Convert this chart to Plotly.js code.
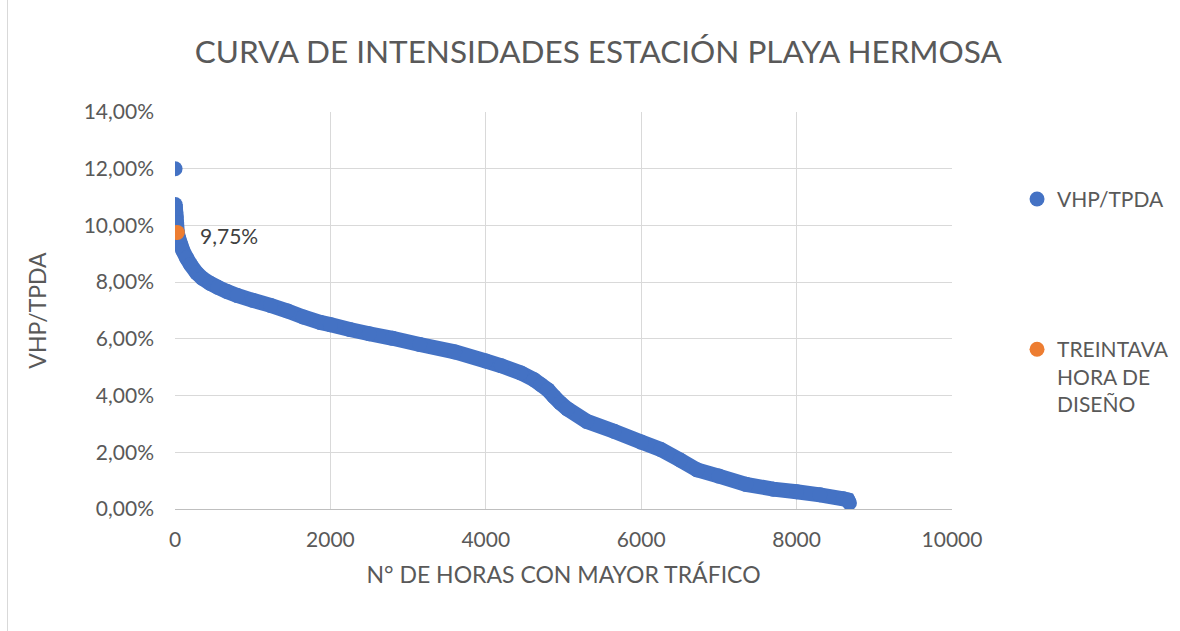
<!DOCTYPE html>
<html>
<head>
<meta charset="utf-8">
<script src="https://cdn.plot.ly/plotly-3.0.1.min.js"></script>
<style>
  html, body { margin: 0; padding: 0; background: #ffffff; }
  #chart { width: 1180px; height: 631px; }
  #frame { position: absolute; left: 7px; top: 0; width: 0; height: 631px; border-left: 1px solid #d9d9d9; }
</style>
</head>
<body>
<div id="chart"></div>
<div id="frame"></div>
<script>
// Peak hour (isolated first point)
const peakHours = [1];
const peakValues = [0.1200];

// Duration curve VHP/TPDA (hours ranked by traffic)
const curveHours = [2, 5, 10, 15, 20, 30, 40, 50, 75, 100, 150, 200, 280, 350, 450, 550, 670, 800, 1000, 1230, 1450, 1650, 1870, 2000, 2250, 2500, 2800, 3150, 3600, 4000, 4200, 4450, 4620, 4710, 4800, 4880, 4960, 5050, 5300, 5650, 6000, 6250, 6500, 6720, 7000, 7350, 7700, 8000, 8300, 8600, 8660, 8680];
const curveValues = [0.1074, 0.1062, 0.1045, 0.1030, 0.1010, 0.0975, 0.0962, 0.0952, 0.0932, 0.0912, 0.0885, 0.0862, 0.0832, 0.0814, 0.0796, 0.0782, 0.0767, 0.0753, 0.0736, 0.0718, 0.0698, 0.0677, 0.0658, 0.0650, 0.0633, 0.0618, 0.0602, 0.0580, 0.0554, 0.0522, 0.0505, 0.0480, 0.0456, 0.0438, 0.0420, 0.0396, 0.0374, 0.0353, 0.0309, 0.0274, 0.0236, 0.0210, 0.0173, 0.0138, 0.0116, 0.0087, 0.0070, 0.0061, 0.0050, 0.0036, 0.0032, 0.0021];

// Design hour (30th hour)
const designHours = [30];
const designValues = [0.0975];
const designLabel = '9,75%';

const xTicks = [0, 2000, 4000, 6000, 8000, 10000];
const yTicks = [0, 0.02, 0.04, 0.06, 0.08, 0.10, 0.12, 0.14];

const BLUE = '#4472C4';
const ORANGE = '#ED7D31';
const TXT = '#595959';
const FONT = 'Lato, "Open Sans", sans-serif';

const allHours = peakHours.concat(curveHours);
const allValues = peakValues.concat(curveValues);

const traces = [
  {
    x: curveHours, y: curveValues, type: 'scatter', mode: 'lines',
    line: {color: BLUE, width: 15, simplify: false},
    showlegend: false, hoverinfo: 'skip'
  },
  {
    x: allHours, y: allValues, type: 'scatter', mode: 'markers',
    name: 'VHP/TPDA',
    marker: {color: BLUE, size: 15},
    legend: 'legend'
  },
  {
    x: designHours, y: designValues, type: 'scatter', mode: 'markers',
    name: 'TREINTAVA<br>HORA DE<br>DISEÑO',
    marker: {color: ORANGE, size: 15},
    legend: 'legend2'
  }
];

const layout = {
  width: 1180, height: 631,
  paper_bgcolor: '#ffffff', plot_bgcolor: '#ffffff',
  separators: ',.',
  margin: {l: 175, r: 228, t: 112, b: 122, pad: 0, autoexpand: false},
  font: {family: FONT, color: TXT, size: 21},
  title: {
    text: 'CURVA DE INTENSIDADES ESTACIÓN PLAYA HERMOSA',
    font: {family: FONT, size: 31.5, color: TXT},
    x: 0.507, xanchor: 'center', y: 0.918, yanchor: 'middle'
  },
  annotations: [{
    x: designHours[0], y: designValues[0], xref: 'x', yref: 'y',
    text: designLabel, showarrow: false, xanchor: 'left', yanchor: 'middle',
    xshift: 21, yshift: -3,
    font: {family: FONT, size: 21, color: '#404040'}
  }],
  xaxis: {
    range: [0, 10000], tickvals: xTicks, ticktext: xTicks.map(String),
    showgrid: true, gridcolor: '#d9d9d9', gridwidth: 1,
    zeroline: false, showline: true, linecolor: '#bfbfbf', linewidth: 1,
    ticks: '', ticklabelstandoff: 12,
    tickfont: {family: FONT, size: 21, color: TXT},
    title: {text: 'N° DE HORAS CON MAYOR TRÁFICO', font: {family: FONT, size: 23, color: TXT}, standoff: 16},
    automargin: false
  },
  yaxis: {
    range: [0, 0.14], tickvals: yTicks, tickformat: '.2%',
    showgrid: true, gridcolor: '#d9d9d9', gridwidth: 1,
    zeroline: false, showline: false,
    ticks: '', ticklabelstandoff: 20,
    tickfont: {family: FONT, size: 21, color: TXT},
    title: {text: 'VHP/TPDA', font: {family: FONT, size: 23, color: TXT}, standoff: 30},
    automargin: false
  },
  legend: {
    x: 1.0837, xanchor: 'left', y: 0.78, yanchor: 'middle',
    font: {family: FONT, size: 21, color: TXT},
    bgcolor: 'rgba(0,0,0,0)', itemwidth: 30
  },
  legend2: {
    x: 1.0837, xanchor: 'left', y: 0.453, yanchor: 'top',
    font: {family: FONT, size: 21, color: TXT},
    bgcolor: 'rgba(0,0,0,0)', itemwidth: 30, valign: 'top'
  }
};

Plotly.newPlot('chart', traces, layout, {displayModeBar: false, staticPlot: true});
</script>
</body>
</html>
